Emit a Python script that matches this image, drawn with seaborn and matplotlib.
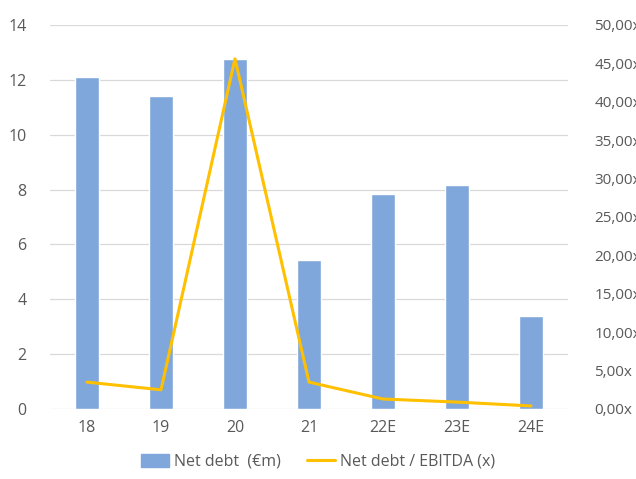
import numpy as np, pandas as pd
import matplotlib; matplotlib.use("Agg")
import matplotlib.pyplot as plt
import seaborn as sns
from matplotlib.patches import Patch
from matplotlib.lines import Line2D

sns.set_style("white")
plt.rcParams["font.family"] = ["Open Sans", "DejaVu Sans"]

years = ["18", "19", "20", "21", "22E", "23E", "24E"]
net_debt = [12.10, 11.41, 12.76, 5.43, 7.84, 8.17, 3.39]
nd_ebitda = [3.5, 2.5, 45.6, 3.5, 1.3, 0.9, 0.4]

df = pd.DataFrame({"year": years, "net_debt": net_debt, "ratio": nd_ebitda})
BAR = "#7FA7DC"; LINE = "#FFC000"; TXT = "#595959"

fig = plt.figure(figsize=(6.36, 4.79), dpi=100)
ax = fig.add_axes([50/636, 1 - 409/479, 518/636, 384/479])
sns.barplot(data=df, x="year", y="net_debt", color=BAR, width=0.32, saturation=1, ax=ax)
ax.set_ylim(0, 14); ax.set_yticks(range(0, 15, 2))
ax.set_xlim(-0.5, 6.5)
ax.grid(axis="y", color="#D9D9D9", lw=0.9); ax.set_axisbelow(True)
for s in ax.spines.values(): s.set_visible(False)
ax.tick_params(axis="both", colors=TXT, labelsize=11.5, length=0)
ax.tick_params(axis="y", pad=17); ax.tick_params(axis="x", pad=8)
ax.set_xlabel(""); ax.set_ylabel("")

ax2 = ax.twinx()
sns.lineplot(data=df, x="year", y="ratio", color=LINE, lw=2.2, ax=ax2, sort=False)
ax2.set_ylim(0, 50); ax2.set_yticks(range(0, 51, 5))
ax2.set_yticklabels([f"{v},00x" for v in range(0, 51, 5)])
for s in ax2.spines.values(): s.set_visible(False)
ax2.tick_params(axis="y", colors=TXT, labelsize=11, length=0, pad=19)
ax2.set_ylabel(""); ax2.set_xlabel("")
ax2.grid(False)

handles = [Patch(color=BAR), Line2D([0], [0], color=LINE, lw=2.2)]
fig.legend(handles, ["Net debt  (€m)", "Net debt / EBITDA (x)"], loc="center",
           bbox_to_anchor=(0.5, 1 - 462/479), ncol=2, frameon=False, fontsize=11.5,
           labelcolor=TXT, handlelength=1.8, handleheight=0.8, columnspacing=1.6,
           handletextpad=0.3)

fig.savefig("out.png", dpi=100)
